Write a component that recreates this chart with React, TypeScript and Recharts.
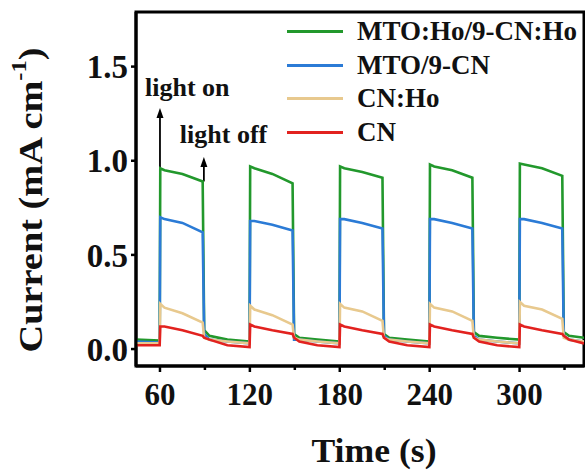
import React from 'react';
import {
  LineChart,
  Line,
  XAxis,
  YAxis,
  ReferenceArea,
  ReferenceLine
} from 'recharts';

const time = [
  44, 59.8, 60.2, 63, 75, 88.5, 89.5, 93, 105,
  119.8, 120.2, 123, 135, 148.5, 149.5, 153, 165,
  179.8, 180.2, 183, 195, 208.5, 209.5, 213, 225,
  239.8, 240.2, 243, 255, 268.5, 269.5, 273, 285,
  299.8, 300.2, 303, 315, 328.5, 329.5, 333, 343
];

const mtoHoCnHo = [
  0.05, 0.045, 0.96, 0.95, 0.93, 0.89, 0.1, 0.07, 0.05,
  0.04, 0.97, 0.96, 0.93, 0.88, 0.08, 0.06, 0.05,
  0.04, 0.97, 0.96, 0.94, 0.91, 0.08, 0.06, 0.05,
  0.04, 0.98, 0.97, 0.95, 0.91, 0.09, 0.07, 0.06,
  0.05, 0.985, 0.98, 0.96, 0.92, 0.09, 0.07, 0.06
];

const mtoCn = [
  0.04, 0.035, 0.7, 0.69, 0.67, 0.62, 0.08, 0.05, 0.04,
  0.03, 0.68, 0.68, 0.66, 0.63, 0.05, 0.05, 0.04,
  0.03, 0.69, 0.69, 0.67, 0.64, 0.07, 0.05, 0.04,
  0.03, 0.69, 0.69, 0.67, 0.64, 0.07, 0.05, 0.04,
  0.03, 0.69, 0.69, 0.67, 0.64, 0.07, 0.05, 0.04
];

const cnHo = [
  0.03, 0.03, 0.24, 0.22, 0.19, 0.14, 0.06, 0.05, 0.04,
  0.03, 0.23, 0.21, 0.18, 0.13, 0.06, 0.05, 0.04,
  0.03, 0.24, 0.22, 0.2, 0.15, 0.06, 0.05, 0.04,
  0.03, 0.24, 0.22, 0.2, 0.15, 0.06, 0.05, 0.04,
  0.03, 0.25, 0.23, 0.21, 0.16, 0.06, 0.05, 0.04
];

const cn = [
  0.02, 0.02, 0.12, 0.12, 0.1, 0.07, 0.06, 0.05, 0.02,
  0.01, 0.13, 0.12, 0.1, 0.08, 0.06, 0.04, 0.02,
  0.01, 0.13, 0.12, 0.1, 0.08, 0.06, 0.04, 0.02,
  0.01, 0.13, 0.12, 0.1, 0.08, 0.06, 0.04, 0.02,
  0.01, 0.13, 0.12, 0.1, 0.08, 0.07, 0.05, 0.03
];

const xTicks = [60, 90, 120, 150, 180, 210, 240, 270, 300, 330];
const xLabels = [60, 120, 180, 240, 300];
const yTicks = [0, 0.5, 1.0, 1.5];

const series = [
  { key: 'mtoHoCnHo', name: 'MTO:Ho/9-CN:Ho', color: '#22982c' },
  { key: 'mtoCn', name: 'MTO/9-CN', color: '#2b7bd6' },
  { key: 'cnHo', name: 'CN:Ho', color: '#e8c98e' },
  { key: 'cn', name: 'CN', color: '#e2221f' }
];

const data = time.map((t, i) => ({
  t,
  mtoHoCnHo: mtoHoCnHo[i],
  mtoCn: mtoCn[i],
  cnHo: cnHo[i],
  cn: cn[i]
}));

const FONT = '"Liberation Serif", "Times New Roman", serif';
const TICK = 6;
const MARGIN = 11;

const XTick = (props: any) => {
  const { x, y, payload } = props;
  const major = xLabels.includes(payload.value);
  const axisY = y - TICK - MARGIN;
  return (
    <g>
      <line x1={x} x2={x} y1={axisY} y2={axisY + (major ? TICK : 4)} stroke="#000" strokeWidth={2.5} />
      {major && (
        <text x={x} y={y} dy="0.71em" textAnchor="middle" fontFamily={FONT} fontWeight="bold" fontSize={31} fill="#111">
          {payload.value}
        </text>
      )}
    </g>
  );
};

const Arrow = (text: string, dx: number, dy: number, size: number) => (props: any) => {
  const { x1, y1, x2, y2 } = props;
  const tipY = Math.min(y1, y2);
  const baseY = Math.max(y1, y2);
  return (
    <g>
      <line x1={x1} x2={x1} y1={baseY} y2={tipY + 6} stroke="#000" strokeWidth={1.8} />
      <polygon points={`${x1},${tipY} ${x1 - 3.5},${tipY + 10} ${x1 + 3.5},${tipY + 10}`} fill="#000" />
      <text x={x1 + dx} y={tipY + dy} fontFamily={FONT} fontWeight="bold" fontSize={size} fill="#111">
        {text}
      </text>
    </g>
  );
};

const ChartLegend = () => (
  <div style={{ position: 'absolute', top: 15, left: 287, width: 298 }}>
    {series.map((s) => (
      <div key={s.key} style={{ display: 'flex', alignItems: 'center', height: 33.5 }}>
        <div style={{ width: 56, height: 3, background: s.color, marginRight: 14 }} />
        <span style={{ fontFamily: FONT, fontWeight: 'bold', fontSize: 27, color: '#111', lineHeight: 1, whiteSpace: 'nowrap' }}>
          {s.name}
        </span>
      </div>
    ))}
  </div>
);

export default function App() {
  return (
    <div style={{ position: 'absolute', left: 0, top: 0, width: 585, height: 470, background: '#fff' }}>
      <LineChart width={585} height={470} data={data} margin={{ top: 12, right: 1, left: 0, bottom: 0 }}>
        <XAxis
          dataKey="t"
          type="number"
          domain={[44, 343]}
          ticks={xTicks}
          allowDataOverflow
          height={104}
          tickSize={TICK}
          tickMargin={MARGIN}
          tickLine={false}
          tick={<XTick />}
          interval={0}
          axisLine={{ stroke: '#000', strokeWidth: 3 }}
          label={({ viewBox }: any) => (
            <text
              x={viewBox.x + viewBox.width / 2 + 14}
              y={462}
              textAnchor="middle"
              textLength={125}
              lengthAdjust="spacingAndGlyphs"
              fontFamily={FONT}
              fontWeight="bold"
              fontSize={33}
              fill="#111"
            >
              Time (s)
            </text>
          )}
        />
        <YAxis
          type="number"
          domain={[-0.09, 1.79]}
          ticks={yTicks}
          allowDataOverflow
          width={136}
          tickSize={5}
          tickMargin={3}
          tickFormatter={(v: number) => v.toFixed(1)}
          tick={{ fontFamily: FONT, fontWeight: 'bold', fontSize: 33, fill: '#111' }}
          tickLine={{ stroke: '#000', strokeWidth: 2.5 }}
          axisLine={{ stroke: '#000', strokeWidth: 3 }}
          label={({ viewBox }: any) => {
            const cx = 31;
            const cy = viewBox.y + viewBox.height / 2 + 11;
            return (
              <text
                x={cx}
                y={cy}
                transform={`rotate(-90 ${cx} ${cy})`}
                textAnchor="middle"
                dominantBaseline="central"
                textLength={305}
                lengthAdjust="spacingAndGlyphs"
                fontFamily={FONT}
                fontWeight="bold"
                fontSize={33}
                fill="#111"
              >
                Current (mA cm
                <tspan dy={-12} fontSize={21}>-1</tspan>
                <tspan dy={12}>)</tspan>
              </text>
            );
          }}
        />
        <ReferenceArea x1={44} x2={343} y1={-0.09} y2={1.79} fill="none" stroke="#000" strokeWidth={3} ifOverflow="visible" />
        <ReferenceLine
          segment={[{ x: 60, y: 0.9 }, { x: 60, y: 1.28 }]}
          ifOverflow="visible"
          shape={Arrow('light on', -15, -12, 26)}
        />
        <ReferenceLine
          segment={[{ x: 89.3, y: 0.89 }, { x: 89.3, y: 1.02 }]}
          ifOverflow="visible"
          shape={Arrow('light off', -24, -14, 26)}
        />
        {series.map((s) => (
          <Line
            key={s.key}
            type="linear"
            dataKey={s.key}
            name={s.name}
            stroke={s.color}
            strokeWidth={2.6}
            dot={false}
            isAnimationActive={false}
          />
        ))}
      </LineChart>
      <ChartLegend />
    </div>
  );
}
